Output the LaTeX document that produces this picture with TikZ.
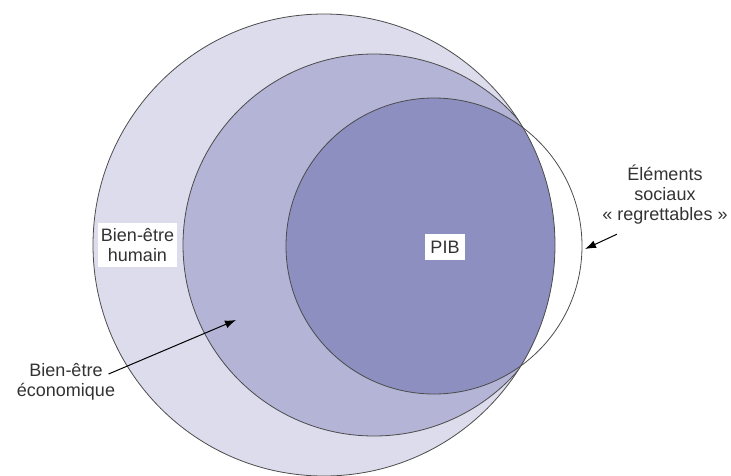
\documentclass[tikz,border=0pt]{standalone}
\usepackage{fontspec}
\setmainfont{Liberation Sans}
\usetikzlibrary{arrows.meta}

\definecolor{humain}{RGB}{220,220,236}
\definecolor{econ}{RGB}{179,180,214}
\definecolor{pib}{RGB}{140,143,192}

\begin{document}
\begin{tikzpicture}[
  x=1pt, y=-1pt,
  >={Latex[length=11pt,width=8pt]},
  ring/.style={draw=black!70, line width=0.8pt},
  every node/.style={font=\fontsize{18}{20}\selectfont, text=black!80, align=center},
  tag/.style={fill=white, inner xsep=2.5pt, inner ysep=5pt},
  ]
  \useasboundingbox (0,0) rectangle (731,475);
  \coordinate (cH) at (324,245);
  \coordinate (cE) at (374,245);
  \coordinate (cP) at (434,246);

  \fill[humain] (cH) circle[radius=231pt];
  \begin{scope}
    \clip (cH) circle[radius=231pt];
    \fill[econ] (cE) circle[radius=191pt];
    \fill[pib] (cP) circle[radius=148pt];
    \draw[ring] (cE) circle[radius=191pt];
  \end{scope}
  \draw[ring] (cH) circle[radius=231pt];
  \draw[ring] (cP) circle[radius=148pt];

  \node[tag] (hum) at (137.5,245) {Bien-être\\humain};
  \node[tag, inner xsep=5.5pt, inner ysep=7pt] (pibl) at (445,247) {PIB};
  \node (eco) at (66,382) {Bien-être\\économique};
  \node (soc) at (665,195) {Éléments\\sociaux\\« regrettables »};

  \coordinate (ecotip) at (236,320);
  \coordinate (soctip) at (585,249);
  \draw[->, line width=1pt] ([shift={(-10,-8)}]eco.east) -- (ecotip);
  \draw[->, line width=1pt] ([shift={(18,6)}]soc.south west) -- (soctip);
\end{tikzpicture}
\end{document}
